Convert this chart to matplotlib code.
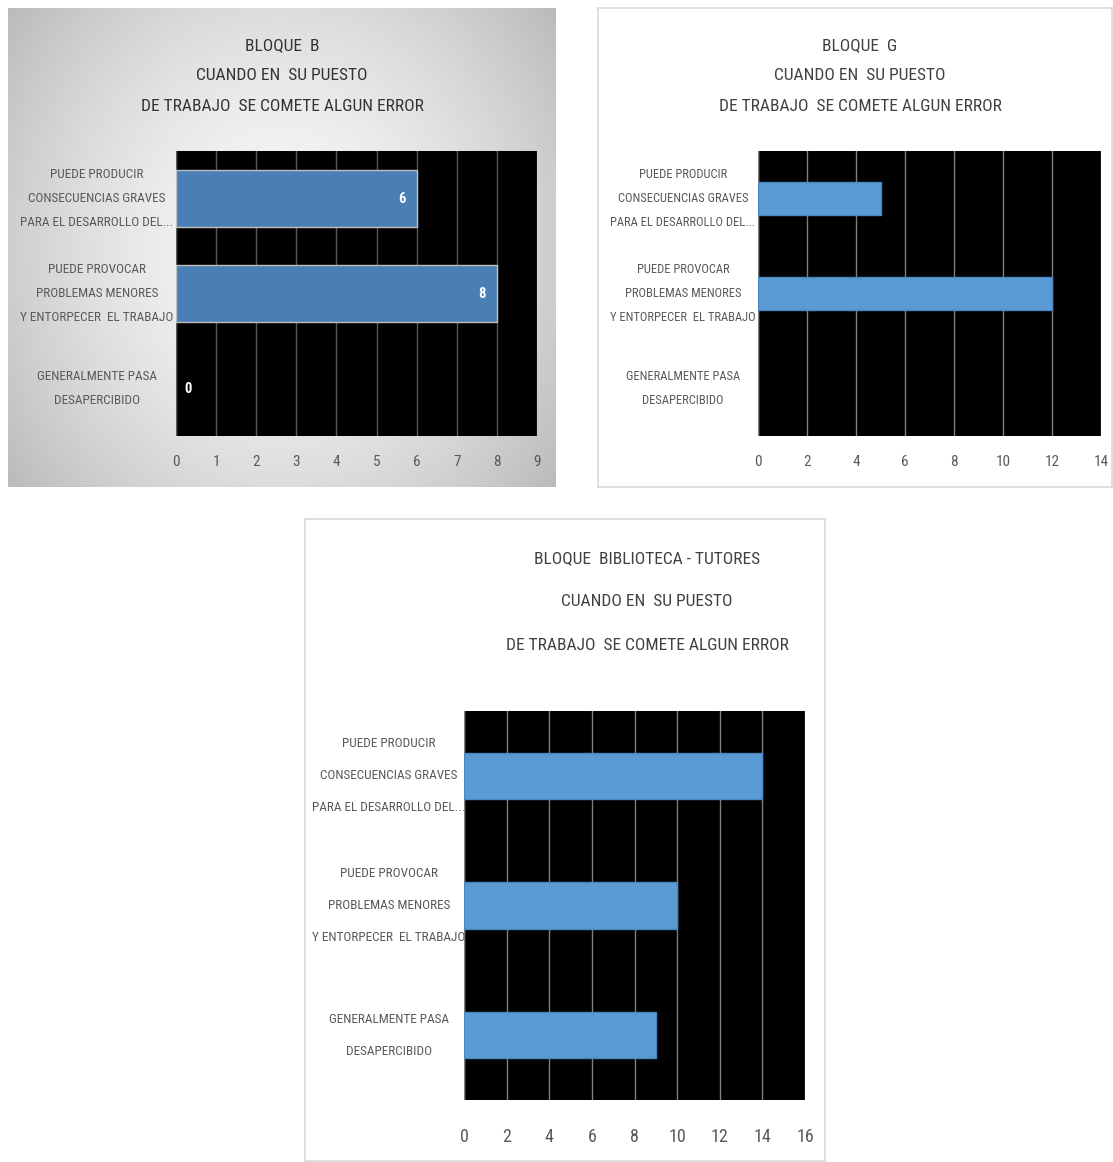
import numpy as np
import matplotlib
matplotlib.use("Agg")
import matplotlib.pyplot as plt
from matplotlib import font_manager

# prefer a condensed sans face when the system has one
NARROW = {"condensed", "semi-condensed", "extra-condensed", "ultra-condensed"}
FONT, STRETCH = "Liberation Sans", "normal"
for pref in ["Liberation Sans Narrow", "Roboto Condensed", "Open Sans Condensed",
             "Noto Sans Condensed", "DejaVu Sans Condensed"]:
    if any(f.name == pref for f in font_manager.fontManager.ttflist):
        FONT = pref
        break
else:
    for fam in ["Roboto", "Noto Sans", "Open Sans", "DejaVu Sans"]:
        hits = [f for f in font_manager.fontManager.ttflist
                if f.name == fam and str(f.stretch) in NARROW]
        if hits:
            FONT, STRETCH = fam, hits[0].stretch
            break
plt.rcParams["font.family"] = [FONT, "DejaVu Sans"]
plt.rcParams["font.stretch"] = STRETCH

W, H = 1113, 1162

categorias = [
    "PUEDE PRODUCIR\nCONSECUENCIAS GRAVES\nPARA EL DESARROLLO DEL...",
    "PUEDE PROVOCAR\nPROBLEMAS MENORES\nY ENTORPECER  EL TRABAJO",
    "GENERALMENTE PASA\nDESAPERCIBIDO",
]
bloque_b = [6, 8, 0]
bloque_g = [5, 12, 0]
bloque_bib = [14, 10, 9]

titulo_b = "BLOQUE  B\nCUANDO EN  SU PUESTO\nDE TRABAJO  SE COMETE ALGUN ERROR"
titulo_g = "BLOQUE  G\nCUANDO EN  SU PUESTO\nDE TRABAJO  SE COMETE ALGUN ERROR"
titulo_bib = "BLOQUE  BIBLIOTECA - TUTORES\nCUANDO EN  SU PUESTO\nDE TRABAJO  SE COMETE ALGUN ERROR"


def rect(x0, y0, x1, y1):
    # pixel box (top-left origin) -> figure fraction rect
    return [x0 / W, 1 - y1 / H, (x1 - x0) / W, (y1 - y0) / H]


def panel(fig, box, gradient=False):
    ax = fig.add_axes(rect(*box))
    ax.set_xticks([])
    ax.set_yticks([])
    if gradient:
        xx, yy = np.meshgrid(np.linspace(-1, 1, 300), np.linspace(-1, 1, 300))
        d = np.sqrt(xx ** 2 + 0.6 * yy ** 2) / np.sqrt(1.6)
        img = 0.97 - 0.24 * d ** 1.6
        ax.imshow(img, cmap="gray", vmin=0, vmax=1, extent=[0, 1, 0, 1],
                  aspect="auto")
        for s in ax.spines.values():
            s.set_visible(False)
    else:
        ax.set_facecolor("white")
        for s in ax.spines.values():
            s.set_color("#d9d9d9")
            s.set_linewidth(1.2)
    return ax


def barras(fig, box, valores, xmax, step, alto, color, edge, grid_color,
           lbl_size, lbl_x, lbl_spacing, tick_size, tick_pad, etiquetas=False):
    ax = fig.add_axes(rect(*box))
    ax.set_facecolor("black")
    y = np.arange(len(valores))
    bars = ax.barh(y, valores, height=alto, color=color, edgecolor=edge,
                   linewidth=1.0, zorder=3)
    for b, v in zip(bars, valores):
        if v == 0:
            b.set_linewidth(0)
    ax.set_xlim(0, xmax)
    ax.set_ylim(len(valores) - 0.5, -0.5)
    ax.set_xticks(np.arange(0, xmax + 1, step))
    ax.set_yticks([])
    ax.tick_params(axis="x", length=0, pad=tick_pad, labelsize=tick_size,
                   labelcolor="#595959")
    ax.grid(axis="x", color=grid_color, linewidth=1.0, zorder=1)
    for s in ax.spines.values():
        s.set_visible(False)
    ax.axvline(0, color=grid_color, linewidth=1.0, zorder=2)

    # category names, centred in the left margin
    tr = matplotlib.transforms.blended_transform_factory(fig.transFigure,
                                                         ax.transData)
    for yi, txt in zip(y, categorias):
        ax.text(lbl_x / W, yi, txt, transform=tr, ha="center", va="center",
                fontsize=lbl_size, color="#595959", linespacing=lbl_spacing,
                clip_on=False)

    if etiquetas:
        for yi, v in zip(y, valores):
            off, ha = (-8, "right") if v > 0 else (6, "left")
            ax.annotate(str(v), (v, yi), xytext=(off, 0),
                        textcoords="offset points", ha=ha, va="center",
                        color="white", fontsize=10.5, fontweight="bold",
                        zorder=4)
    return ax


fig = plt.figure(figsize=(W / 100, H / 100), dpi=100)
fig.patch.set_facecolor("white")

# Bloque B
panel(fig, (8, 8, 556, 487), gradient=True)
barras(fig, (176, 151, 537, 436), bloque_b, 9, 1, 0.61, "#4a7fb6", "#bfbfbf",
       "#595959", 9.5, 97, 2.12, 11, 14, etiquetas=True)
fig.text(282 / W, 1 - 76 / H, titulo_b, ha="center", va="center",
         fontsize=12.5, color="#333333", linespacing=2.3)

# Bloque G
panel(fig, (598, 8, 1112, 487))
barras(fig, (758, 151, 1101, 436), bloque_g, 14, 2, 0.35, "#5b9bd5",
       "#4a86c0", "#7f7f7f", 9, 683, 2.14, 11, 14)
fig.text(860 / W, 1 - 76 / H, titulo_g, ha="center", va="center",
         fontsize=12.5, color="#404040", linespacing=2.3)

# Bloque Biblioteca - Tutores
panel(fig, (305, 519, 825, 1161))
barras(fig, (464, 711, 805, 1100), bloque_bib, 16, 2, 0.355, "#5b9bd5",
       "#4a86c0", "#7f7f7f", 9.5, 389, 2.9, 13, 20)
fig.text(647 / W, 1 - 602 / H, titulo_bib, ha="center", va="center",
         fontsize=12.5, color="#404040", linespacing=3.35)

fig.savefig("out.png", dpi=100)
